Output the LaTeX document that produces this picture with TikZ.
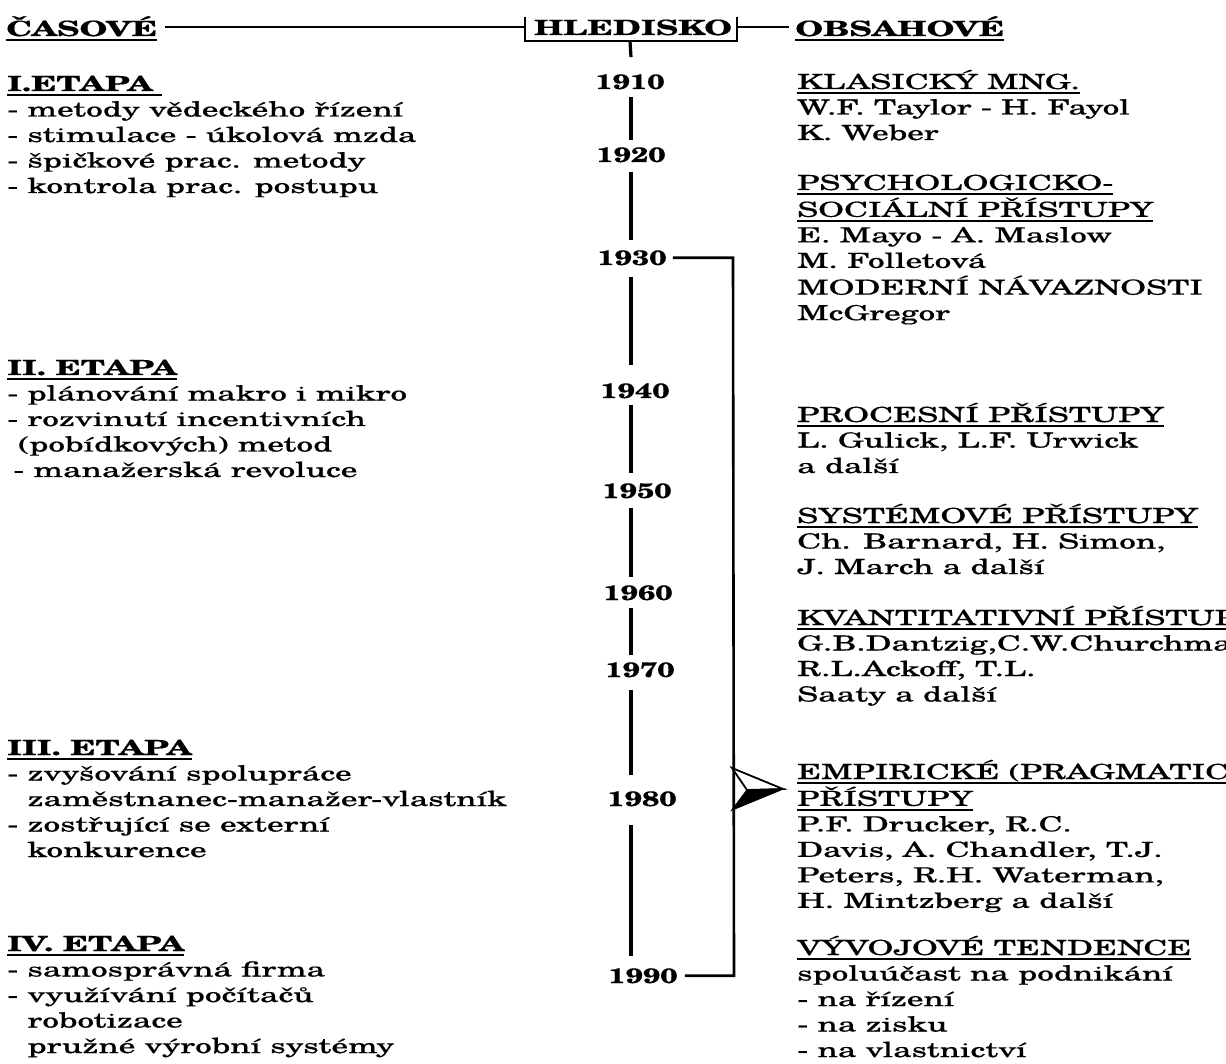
\documentclass[tikz,border=0pt]{standalone}
\usepackage{fontspec}
\setmainfont{TeX Gyre Schola}[FakeStretch=1.6, FakeBold=0.5]
\newfontfamily\yrfont{TeX Gyre Schola}[FakeStretch=1.45, FakeBold=0.4]
\newcommand\myul[1]{\setbox0\hbox{#1}\rlap{\rule[-5pt]{\wd0}{1.9pt}}\box0}
\newcommand\lns[1]{\begin{tabular}[t]{@{}l@{}}#1\end{tabular}}
\tikzset{
  txt/.style={anchor=base west, inner sep=0pt, font=\fontsize{20.8}{25.5}\selectfont},
  yr/.style={anchor=base, inner sep=0pt, font=\fontsize{20.8}{25.5}\yrfont\bfseries},
  hdr/.style={anchor=base west, inner sep=0pt, font=\fontsize{21}{25.5}\selectfont\bfseries},
  tline/.style={line width=3.2pt},
  bline/.style={line width=2.6pt},
  thin/.style={line width=1.7pt},
}
\begin{document}
\begin{tikzpicture}[x=1pt,y=-1pt]
\useasboundingbox (0,0) rectangle (1226,1064);
\clip (0,0) rectangle (1226,1064);
% headers
\node[hdr] (cas) at (6,36) {\myul{ČASOVÉ}};
\node[hdr, anchor=base] (hl) at (633,35) {HLEDISKO};
\node[hdr] (obs) at (795,36) {\myul{OBSAHOVÉ}};
\coordinate (hlL) at (525,27);
\coordinate (hlR) at (737,27);
\coordinate (hlB) at (630,41);
\draw[thin] (525,17) -- (525,41) -- (737,41) -- (737,17);
\draw[thin] ([xshift=8pt]cas.east |- hlL) -- (hlL);
\draw[thin] (hlR) -- ([xshift=-6pt]obs.west |- hlR);
% left column
\node[txt] (e1) at (7,91) {\lns{\textbf{\myul{I.ETAPA\ }}\\- metody vědeckého řízení\\- stimulace - úkolová mzda\\- špičkové prac. metody\\- kontrola prac. postupu}};
\node[txt] (e2) at (7,375) {\lns{\textbf{\myul{II. ETAPA}}\\- plánování makro i mikro\\- rozvinutí incentivních\\\hspace{11pt}(pobídkových) metod\\\hspace{6pt}- manažerská revoluce}};
\node[txt] (e3) at (7,755) {\lns{\textbf{\myul{III. ETAPA}}\\- zvyšování spolupráce\\\phantom{- }zaměstnanec-manažer-vlastník\\- zostřující se externí\\\phantom{- }konkurence}};
\node[txt] (e4) at (7,951) {\lns{\textbf{\myul{IV. ETAPA}}\\- samosprávná firma\\- využívání počítačů\\\phantom{- }robotizace\\\phantom{- }pružné výrobní systémy}};
% right column
\node[txt] (r1) at (797,89) {\lns{\myul{KLASICKÝ MNG.}\\W.F. Taylor - H. Fayol\\K. Weber}};
\node[txt] (r2) at (797,190) {\lns{\myul{PSYCHOLOGICKO-}\\\myul{SOCIÁLNÍ PŘÍSTUPY}\\E. Mayo - A. Maslow\\M. Folletová\\MODERNÍ NÁVAZNOSTI\\McGregor}};
\node[txt] (r3) at (797,422) {\lns{\myul{PROCESNÍ PŘÍSTUPY}\\L. Gulick, L.F. Urwick\\a další}};
\node[txt] (r4) at (797,523) {\lns{\myul{SYSTÉMOVÉ PŘÍSTUPY}\\Ch. Barnard, H. Simon,\\J. March a další}};
\node[txt] (r5) at (797,625) {\lns{\myul{KVANTITATIVNÍ PŘÍSTUPY}\\G.B.Dantzig,C.W.Churchman\\R.L.Ackoff, T.L.\\Saaty a další}};
\node[txt] (r6) at (797,779) {\lns{\myul{EMPIRICKÉ (PRAGMATICKÉ)}\\\myul{PŘÍSTUPY}\\P.F. Drucker, R.C.\\Davis, A. Chandler, T.J.\\Peters, R.H. Waterman,\\H. Mintzberg a další}};
\node[txt] (r7) at (797,955) {\lns{\myul{VÝVOJOVÉ TENDENCE}\\spoluúčast na podnikání\\- na řízení\\- na zisku\\- na vlastnictví}};
% years
\node[yr] (y1910) at (630,89) {1910};
\node[yr] (y1920) at (631,162) {1920};
\node[yr] (y1930) at (632,265) {1930};
\node[yr] (y1940) at (635,398) {1940};
\node[yr] (y1950) at (637,498) {1950};
\node[yr] (y1960) at (638,600) {1960};
\node[yr] (y1970) at (640,677) {1970};
\node[yr] (y1980) at (642,806) {1980};
\node[yr] (y1990) at (643,983) {1990};
\coordinate (tl) at (631,0);
\draw[tline] (hlB) -- ([yshift=17pt]y1910.north -| tl);
\draw[tline] ([yshift=-8pt]y1910.south -| tl) -- ([yshift=7pt]y1920.north -| tl);
\draw[tline] ([yshift=-10pt]y1920.south -| tl) -- ([yshift=10pt]y1930.north -| tl);
\draw[tline] ([yshift=-12pt]y1930.south -| tl) -- ([yshift=18pt]y1940.north -| tl);
\draw[tline] ([yshift=-7pt]y1940.south -| tl) -- ([yshift=10pt]y1950.north -| tl);
\draw[tline] ([yshift=-10pt]y1950.south -| tl) -- ([yshift=8pt]y1960.north -| tl);
\draw[tline] ([yshift=-8pt]y1960.south -| tl) -- ([yshift=7pt]y1970.north -| tl);
\draw[tline] ([yshift=-13pt]y1970.south -| tl) -- ([yshift=16pt]y1980.north -| tl);
\draw[tline] ([yshift=-19pt]y1980.south -| tl) -- ([yshift=12pt]y1990.north -| tl);
% bracket
\coordinate (brx) at (727,0);
\draw[bline] ([xshift=6pt]y1930.east) -- ([xshift=6pt]y1930.east -| brx) -- ([xshift=7pt]y1990.east -| brx) -- ([xshift=7pt]y1990.east);
% arrow
\coordinate (arw) at (732,789);
\draw[line width=1.8pt, line join=miter, fill=white] (arw) ++(0,-21) -- ++(51,21) -- ++(-36,1) -- cycle;
\fill[draw, line width=1.2pt] (arw) ++(15,1) -- ++(36,-1) -- ++(-51,21) -- cycle;
\end{tikzpicture}
\end{document}
